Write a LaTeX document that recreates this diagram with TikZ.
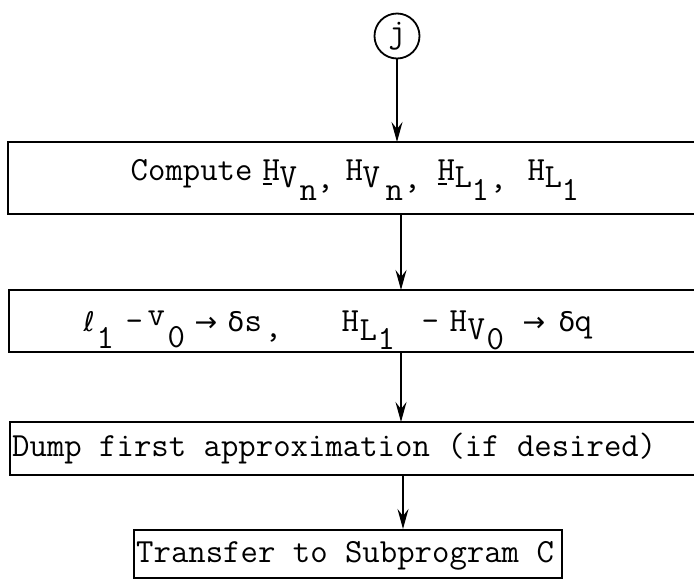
\documentclass[tikz,border=0pt]{standalone}
\usepackage{fontspec}
\newfontfamily\symf{DejaVu Sans}
\usetikzlibrary{arrows.meta}
\newcommand\pc[3]{\makebox[0pt][l]{\hspace*{#1pt}\raisebox{#2pt}{#3}}}
\newcommand\ubar[1]{\makebox[0pt][l]{\hspace*{#1pt}\rule[-4.5pt]{9pt}{1.8pt}}}
\newcommand\sy[1]{{\symf\fontsize{27}{29}\selectfont #1}}
\begin{document}
\begin{tikzpicture}[x=1pt,y=-1pt,
  every node/.style={font=\ttfamily\fontsize{33.8}{36}\selectfont},
  boxline/.style={line width=2.4pt},
  conn/.style={line width=1.8pt,-{Stealth[length=20pt,width=11pt,inset=7pt]}},
  txt/.style={anchor=base west,inner sep=0pt}]
\useasboundingbox (0,0) rectangle (694,579);
% connector circle
\node[draw,circle,line width=1.8pt,minimum size=45pt,inner sep=0pt] (j) at (397,36) {j};
% box outlines (open on the right)
\draw[boxline] (700,142) -- (8,142) -- (8,214) -- (700,214);
\draw[boxline] (700,290) -- (9,290) -- (9,352) -- (700,352);
\draw[boxline] (700,422) -- (10,422) -- (10,475) -- (700,475);
\node[draw,line width=2.2pt,minimum width=428pt,minimum height=48pt,inner sep=0pt,anchor=north west] (b4) at (133,529) {};
% anchor points on boxes
\coordinate (b1t) at (397,142);
\coordinate (b1b) at (401,214);
\coordinate (b2t) at (401,290);
\coordinate (b2b) at (401,352);
\coordinate (b3t) at (401,422);
\coordinate (b3b) at (403,475);
% texts
\node[txt] (t1) at (0,180) {\pc{130}{0}{Compute}%
 \ubar{262}\pc{262}{0}{H}\pc{279}{-7}{V}\pc{299}{-20}{n}\pc{316}{-8}{,}%
 \pc{345}{0}{H}\pc{362}{-7}{V}\pc{385}{-20}{n}\pc{403}{-8}{,}%
 \ubar{437}\pc{437}{0}{H}\pc{454}{-7}{L}\pc{471}{-20}{1}\pc{489}{-8}{,}%
 \pc{527}{0}{H}\pc{544}{-7}{L}\pc{561}{-20}{1}};
\node[txt] (t2) at (0,331) {\pc{83}{0}{\sy{ℓ}}\pc{96}{-17}{1}\pc{125}{0}{-}%
 \pc{147}{6}{v}\pc{167}{-16}{0}\pc{194}{0}{\sy{→}}\pc{227}{0}{\sy{δ}}\pc{244}{0}{s}\pc{264}{-6}{,}%
 \pc{341}{0}{H}\pc{359}{-9}{L}\pc{377}{-18}{1}\pc{421}{0}{-}%
 \pc{449}{0}{H}\pc{467}{-8}{V}\pc{486}{-18}{0}\pc{522}{0}{\sy{→}}\pc{558}{0}{\sy{δ}}\pc{574}{0}{q}};
\node[txt] (t3) at (12,456) {Dump first approximation (if desired)};
\node[txt] (t4) at (136,562) {Transfer to Subprogram C};
% connectors
\draw[conn] (j) -- (b1t);
\draw[conn] (b1b) -- (b2t);
\draw[conn] (b2b) -- (b3t);
\draw[conn] (b3b) -- (b3b |- b4.north);
\end{tikzpicture}
\end{document}
